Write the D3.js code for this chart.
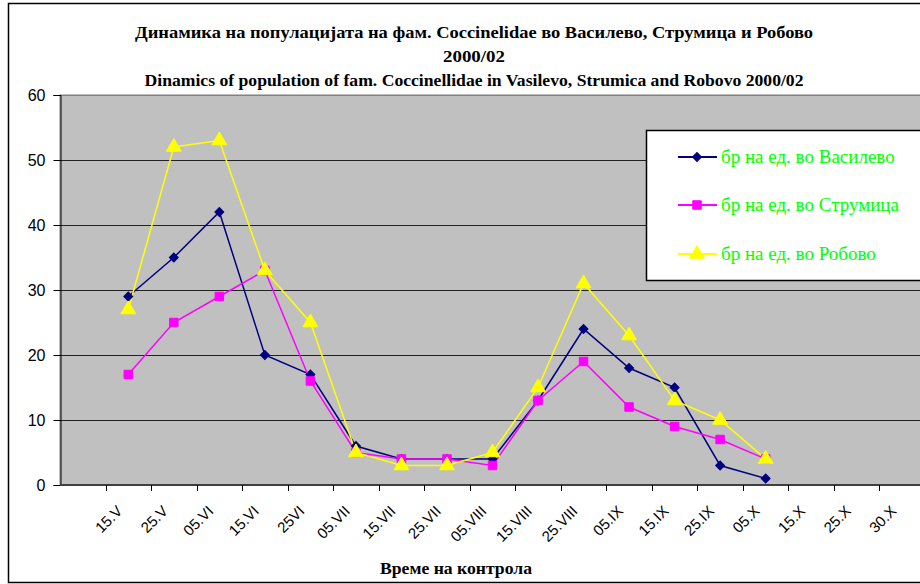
<!DOCTYPE html>
<html>
<head>
<meta charset="utf-8">
<script src="https://cdn.jsdelivr.net/npm/d3@7"></script>
<style>
  html, body { margin: 0; padding: 0; background: #fff; }
  svg { display: block; }
</style>
</head>
<body>
<svg id="chart" width="920" height="584"></svg>
<script>
// ---- data ----
const categories = ["", "15.V", "25.V", "05.VI", "15.VI", "25VI", "05.VII", "15.VII", "25.VII",
  "05.VIII", "15.VIII", "25.VIII", "05.IX", "15.IX", "25.IX", "05.X", "15.X", "25.X", "30.X"];
const vasilevo = [null, 29, 35, 42, 20, 17, 6, 4, 4, 4, 13, 24, 18, 15, 3, 1, null, null, null];
const strumica = [null, 17, 25, 29, 33, 16, 5, 4, 4, 3, 13, 19, 12, 9, 7, 4, null, null, null];
const robovo   = [null, 27, 52, 53, 33, 25, 5, 3, 3, 5, 15, 31, 23, 13, 10, 4, null, null, null];
const yTicks = [0, 10, 20, 30, 40, 50, 60];
const seriesNames = ["бр на ед. во Василево", "бр на ед. во Струмица", "бр на ед. во Робово"];
const titleLines = [
  "Динамика на популацијата на фам. Coccinelidae  во Василево, Струмица и Робово",
  "2000/02",
  "Dinamics of population of fam. Coccinellidae in Vasilevo, Strumica and Robovo 2000/02"
];
const xAxisTitle = "Време на контрола";

// ---- layout ----
const svg = d3.select("#chart");
const plot = { left: 60, right: 925, top: 95, bottom: 485 };

// outer chart border
svg.append("rect").attr("x", 8.5).attr("y", 3.5).attr("width", 930).attr("height", 579)
  .attr("fill", "#fff").attr("stroke", "#000").attr("stroke-width", 1.5);

const x = d3.scaleBand().domain(categories.map((c, i) => i)).range([plot.left, plot.right]).padding(0);
const y = d3.scaleLinear().domain([0, 60]).range([plot.bottom, plot.top]);
const cx = i => x(i) + x.bandwidth() / 2;

// plot area background
svg.append("rect").attr("x", plot.left).attr("y", plot.top)
  .attr("width", plot.right - plot.left).attr("height", plot.bottom - plot.top)
  .attr("fill", "#C0C0C0").attr("stroke", "#808080").attr("stroke-width", 1);

// gridlines
svg.append("g").selectAll("line").data(yTicks.filter(t => t > 0)).join("line")
  .attr("x1", plot.left).attr("x2", plot.right)
  .attr("y1", d => Math.round(y(d)) + 0.5).attr("y2", d => Math.round(y(d)) + 0.5)
  .attr("stroke", d => d === 60 ? "#808080" : "#222").attr("stroke-width", 1);

// y axis
const yAxis = d3.axisLeft(y).tickValues(yTicks).tickSize(7).tickPadding(8);
const gy = svg.append("g").attr("transform", `translate(${plot.left + 0.5},0)`).call(yAxis);
gy.select(".domain").attr("stroke", "#000");
gy.selectAll(".tick line").attr("stroke", "#000");
gy.selectAll(".tick text").attr("font-family", "Liberation Sans, Arial, sans-serif")
  .attr("font-size", 16).attr("fill", "#000");

// x axis with ticks at category boundaries
const boundaries = d3.range(categories.length).map(i => x(i));
const gx = svg.append("g");
gx.append("line").attr("x1", plot.left).attr("x2", plot.right)
  .attr("y1", plot.bottom).attr("y2", plot.bottom).attr("stroke", "#404040").attr("stroke-width", 2);
gx.selectAll("line.tk").data(boundaries.slice(1)).join("line").attr("class", "tk")
  .attr("x1", d => Math.round(d) + 0.5).attr("x2", d => Math.round(d) + 0.5)
  .attr("y1", plot.bottom).attr("y2", plot.bottom + 6).attr("stroke", "#000");
gx.selectAll("text").data(categories.map((c, i) => ({ c, i })).filter(d => d.c !== "")).join("text")
  .attr("transform", d => `translate(${cx(d.i) - 5},${plot.bottom + 27}) rotate(-45)`)
  .attr("text-anchor", "end")
  .attr("font-family", "Liberation Sans, Arial, sans-serif").attr("font-size", 15)
  .text(d => d.c);

// series
const series = [
  { name: seriesNames[0], values: vasilevo, color: "#000080", marker: "diamond" },
  { name: seriesNames[1], values: strumica, color: "#FF00FF", marker: "square" },
  { name: seriesNames[2], values: robovo, color: "#FFFF00", marker: "triangle" }
];
const markerPath = m => m === "diamond" ? d3.symbol().type(d3.symbolSquare).size(40)()
  : m === "square" ? d3.symbol().type(d3.symbolSquare).size(72)()
  : d3.symbol().type(d3.symbolTriangle).size(95)();
const markerRot = m => m === "diamond" ? " rotate(45)" : "";

const line = d3.line().defined(d => d.v != null).x(d => cx(d.i)).y(d => y(d.v));
series.forEach(s => {
  const pts = s.values.map((v, i) => ({ v, i }));
  svg.append("path").datum(pts).attr("d", line).attr("fill", "none")
    .attr("stroke", s.color).attr("stroke-width", 1.5);
});
series.forEach(s => {
  const pts = s.values.map((v, i) => ({ v, i })).filter(d => d.v != null);
  svg.append("g").selectAll("path").data(pts).join("path")
    .attr("d", markerPath(s.marker))
    .attr("transform", d => `translate(${cx(d.i)},${y(d.v)})${markerRot(s.marker)}`)
    .attr("fill", s.color).attr("stroke", s.color).attr("stroke-width", 1);
});

// legend
const lg = svg.append("g");
lg.append("rect").attr("x", 646.5).attr("y", 130.5).attr("width", 290).attr("height", 150)
  .attr("fill", "#fff").attr("stroke", "#000").attr("stroke-width", 1.5);
const legendY = [157, 205, 254];
series.forEach((s, k) => {
  const ly = legendY[k];
  lg.append("line").attr("x1", 678).attr("x2", 717).attr("y1", ly).attr("y2", ly)
    .attr("stroke", s.color).attr("stroke-width", 2);
  lg.append("path").attr("d", markerPath(s.marker))
    .attr("transform", `translate(697,${ly})${markerRot(s.marker)}`)
    .attr("fill", s.color).attr("stroke", s.color);
  lg.append("text").attr("x", 721).attr("y", ly + 6)
    .attr("font-family", "Liberation Serif, 'Times New Roman', serif").attr("font-size", 19)
    .attr("fill", "#00FF00").text(s.name);
});

// title
const titleY = [38, 62, 86];
const titleW = [678, 62, 659];
titleLines.forEach((t, k) => {
  svg.append("text").attr("x", 474).attr("y", titleY[k]).attr("text-anchor", "middle")
    .attr("font-family", "Liberation Serif, 'Times New Roman', serif").attr("font-weight", "bold")
    .attr("font-size", 17).attr("textLength", titleW[k]).attr("lengthAdjust", "spacingAndGlyphs")
    .text(t);
});

// x axis title
svg.append("text").attr("x", 456).attr("y", 574).attr("text-anchor", "middle")
  .attr("font-family", "Liberation Serif, 'Times New Roman', serif").attr("font-weight", "bold")
  .attr("font-size", 17).attr("textLength", 152).attr("lengthAdjust", "spacingAndGlyphs")
  .text(xAxisTitle);
</script>
</body>
</html>
